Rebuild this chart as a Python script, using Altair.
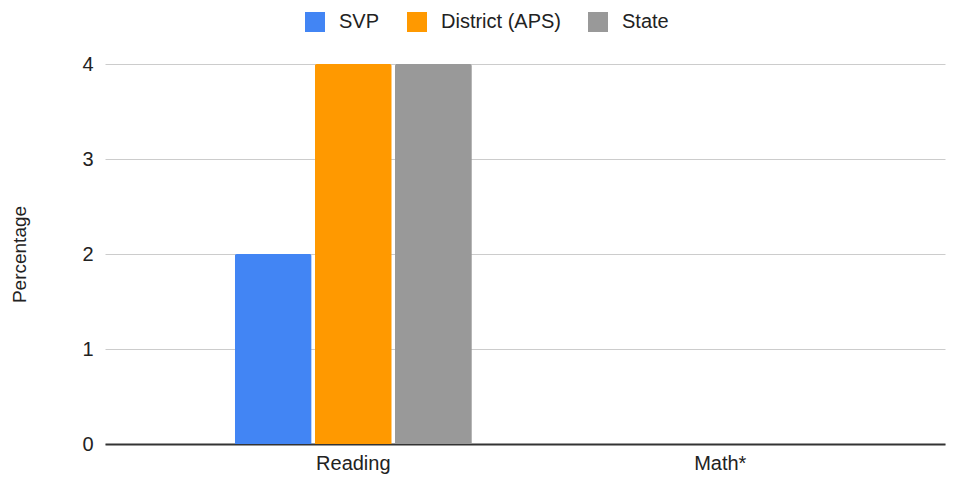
import altair as alt
import pandas as pd

subjects = ["Reading", "Math*"]
groups = ["SVP", "District (APS)", "State"]
svp = [2, 0]
district = [4, 0]
state = [4, 0]
colors = ["#4285F4", "#FF9900", "#999999"]

rows = []
for i, s in enumerate(subjects):
    for g, vals in zip(groups, [svp, district, state]):
        rows.append({"Subject": s, "Group": g, "Value": vals[i]})
df = pd.DataFrame(rows)

FONT = "Liberation Sans"

chart = alt.Chart(df).mark_bar(cornerRadiusTopLeft=2, cornerRadiusTopRight=2).encode(
    x=alt.X("Subject:N", sort=subjects, title=None,
            scale=alt.Scale(paddingInner=0.354, paddingOuter=0.3215, align=0.55),
            axis=alt.Axis(labelAngle=0, ticks=False, domainColor="#333333", domainWidth=2,
                          labelFont=FONT, labelFontSize=20, labelColor="#222222", labelPadding=9)),
    xOffset=alt.XOffset("Group:N", sort=groups, scale=alt.Scale(paddingInner=0.04, paddingOuter=0)),
    y=alt.Y("Value:Q", title="Percentage",
            scale=alt.Scale(domain=[0, 4], nice=False),
            axis=alt.Axis(values=[0, 1, 2, 3, 4], format="d", domain=False, ticks=False,
                          gridColor="#cccccc", labelFont=FONT, labelFontSize=20,
                          labelColor="#222222", labelPadding=12,
                          titleFont=FONT, titleFontSize=19, titleFontWeight="normal",
                          titleColor="#222222", titlePadding=52)),
    color=alt.Color("Group:N", sort=groups,
                    scale=alt.Scale(domain=groups, range=colors),
                    legend=alt.Legend(title=None, orient="none", direction="horizontal",
                                      legendX=200, legendY=-52,
                                      symbolType="square", symbolSize=400,
                                      symbolStrokeWidth=0, labelFont=FONT, labelFontSize=20,
                                      labelColor="#222222", labelOffset=14, columnPadding=27)),
).properties(
    width=840, height=380,
    autosize=alt.AutoSizeParams(type="none"),
    padding={"left": 97, "top": 56, "right": 5, "bottom": 30},
).configure_view(stroke=None)

chart.save("out.html", embed_options={"renderer": "svg", "actions": False})
